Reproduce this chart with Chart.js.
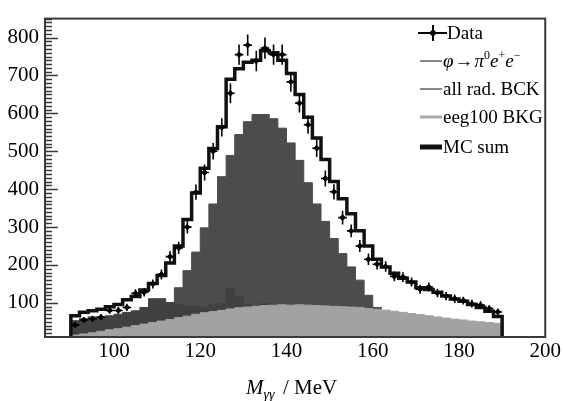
<!DOCTYPE html>
<html>
<head>
<meta charset="utf-8">
<script src="https://cdn.jsdelivr.net/npm/chart.js@4.4.0/dist/chart.umd.min.js"></script>
<style>
  html, body { margin: 0; padding: 0; background: #fff; }
</style>
</head>
<body>
<canvas id="myChart" width="563" height="401"></canvas>
<script>
// bins of 2 MeV from 90 to 190
var binEdges = [90,92,94,96,98,100,102,104,106,108,110,112,114,116,118,120,122,124,126,128,130,
                132,134,136,138,140,142,144,146,148,150,152,154,156,158,160,162,164,166,168,170,
                172,174,176,178,180,182,184,186,188,190];
var xTicks = [100, 120, 140, 160, 180, 200];
var yTicks = [100, 200, 300, 400, 500, 600, 700, 800];

var dataCounts = [42,55,58,62,80,80,88,125,128,150, 175,222,245,300,392,444,500,563,653,755,
                  780,738,772,755,755,683,627,570,508,428, 393,325,290,250,215,202,196,170,168,155,
                  136,142,126,118,111,106,98,94,85,76];
var dataErrors = [6.5,7.4,7.6,7.9,8.9,8.9,9.4,11,11,12, 13,15,16,17,20,21,22,24,26,27,
                  28,27,28,27,27,26,25,24,23,21, 20,18,17,16,15,14,14,13,13,12,
                  12,12,11,11,11,10,10,10,9,9];
var mcSum = [66,75,79,83,90,96,108,117,134,151, 172,205,250,320,390,455,507,565,690,718,
             735,740,765,760,740,705,650,590,535,478, 420,375,335,290,250,215,195,178,165,155,
             140,135,128,118,110,104,96,88,78,64];
var signalMC = [2,3,4,5,7,10,13,18,25,35, 50,75,140,185,234,298,361,433,489,544,
                578,597,597,586,561,522,476,417,361,315, 270,230,195,160,120,88,62,45,33,24,
                17,12,9,7,5,4,3,2,2,1];
var radBck = [53,58,63,63,66,70,75,79,88,111, 111,101,95,90,92,88,95,98,137,118,
              95,92,98,96,90,95,92,88,92,85, 84,80,76,72,68,64,60,56,52,48,
              45,42,39,36,34,32,30,28,26,24];
var eegBkg = [15,18,21,25,29,32,36,40,44,48, 52,56,61,65,70,74,77,80,84,87,
              89,91,93,94,95,94,95,94,93,92, 91,90,89,88,85,83,81,78,75,72,
              69,66,63,60,57,55,52,50,48,46];

var serif = '"Liberation Serif", "Times New Roman", serif';

// histogram outline: point at each left edge, plus the last right edge
function stepPoints(vals, closed) {
    var pts = [];
    if (closed) pts.push({x: binEdges[0], y: 0});
    for (var i = 0; i < vals.length; i++) pts.push({x: binEdges[i], y: vals[i]});
    pts.push({x: binEdges[vals.length], y: vals[vals.length - 1]});
    if (closed) pts.push({x: binEdges[vals.length], y: 0});
    return pts;
}

var dataPoints = dataCounts.map(function(v, i) {
    return {x: (binEdges[i] + binEdges[i + 1]) / 2, y: v, err: dataErrors[i], xlo: binEdges[i], xhi: binEdges[i + 1]};
});

var framePlugin = {
    id: 'frame',
    afterDatasetsDraw: function(chart) {
        var c = chart.ctx, a = chart.chartArea, ys = chart.scales.y, xs = chart.scales.x;
        // error bars on the data
        var meta = chart.getDatasetMeta(0);
        c.save();
        c.strokeStyle = '#000';
        c.lineWidth = 1.6;
        meta.data.forEach(function(el, i) {
            var p = chart.data.datasets[0].data[i];
            c.beginPath();
            c.moveTo(el.x, ys.getPixelForValue(p.y + p.err));
            c.lineTo(el.x, ys.getPixelForValue(p.y - p.err));
            c.moveTo(xs.getPixelForValue(p.xlo), el.y);
            c.lineTo(xs.getPixelForValue(p.xhi), el.y);
            c.stroke();
        });
        // box
        c.strokeStyle = '#3a3a3a';
        c.lineWidth = 2;
        c.strokeRect(a.left, a.top, a.right - a.left, a.bottom - a.top);
        // y ticks, pointing inward, minor every 10
        c.lineWidth = 1.5;
        c.beginPath();
        for (var v = 20; v <= 850; v += 10) {
            var py = Math.round(ys.getPixelForValue(v)) + 0.5;
            var len = (v % 100 === 0) ? 13 : 7;
            c.moveTo(a.left, py);
            c.lineTo(a.left + len, py);
        }
        c.stroke();
        c.restore();
    },
    afterDraw: function(chart) {
        var c = chart.ctx;
        c.save();
        c.fillStyle = '#000';
        c.textBaseline = 'alphabetic';
        // axis title
        c.font = 'italic 21px ' + serif;
        c.fillText('M', 246, 394);
        var w = c.measureText('M').width;
        c.font = 'italic 14px ' + serif;
        c.fillText('γγ', 246 + w, 399);
        c.font = '21px ' + serif;
        c.fillText('/ MeV', 283, 394);

        // legend
        var rows = [{ds: 0, y: 33}, {ds: 4, y: 61}, {ds: 3, y: 89}, {ds: 2, y: 117}, {ds: 1, y: 147}];
        rows.forEach(function(r) {
            var ds = chart.data.datasets[r.ds];
            if (r.ds === 0) {
                c.strokeStyle = '#000';
                c.lineWidth = 2;
                c.beginPath();
                c.moveTo(418, r.y); c.lineTo(447, r.y);
                c.moveTo(433, r.y - 8); c.lineTo(433, r.y + 8);
                c.stroke();
                c.beginPath();
                c.moveTo(433, r.y - 4); c.lineTo(437, r.y); c.lineTo(433, r.y + 4); c.lineTo(429, r.y);
                c.closePath(); c.fill();
            } else {
                c.strokeStyle = ds.legendColor;
                c.lineWidth = ds.legendWidth;
                c.beginPath();
                c.moveTo(420, r.y); c.lineTo(442, r.y);
                c.stroke();
            }
            var tx = (r.ds === 0) ? 447 : 443;
            var base = r.y + 6;
            if (ds.rich) {
                ds.rich.forEach(function(p) {
                    var size = p.sup ? 12 : 19;
                    c.font = (p.it ? 'italic ' : '') + size + 'px ' + serif;
                    var by = p.sup ? base - 8 : base;
                    c.fillText(p.t, tx, by);
                    tx += c.measureText(p.t).width + (p.gap || 0);
                });
            } else {
                c.font = '19px ' + serif;
                c.fillText(ds.label, tx, base);
            }
        });
        c.restore();
    }
};

const ctx = document.getElementById('myChart');
new Chart(ctx, {
    type: 'line',
    data: {
        datasets: [
            {
                type: 'scatter', label: 'Data', data: dataPoints,
                pointStyle: 'rectRot', pointRadius: 2.8,
                backgroundColor: '#000', borderColor: '#000', showLine: false
            },
            {
                label: 'MC sum', data: stepPoints(mcSum, true), stepped: 'before',
                borderColor: '#111', borderWidth: 3.5, fill: false, pointRadius: 0,
                legendColor: '#111', legendWidth: 5
            },
            {
                label: 'eeg100 BKG', data: stepPoints(eegBkg, false), stepped: 'before',
                borderColor: '#a2a2a2', borderWidth: 1, backgroundColor: '#a2a2a2', fill: 'origin', pointRadius: 0,
                legendColor: '#a8a8a8', legendWidth: 3
            },
            {
                label: 'all rad. BCK', data: stepPoints(radBck, false), stepped: 'before',
                borderColor: '#404040', borderWidth: 1, backgroundColor: '#404040', fill: 'origin', pointRadius: 0,
                legendColor: '#8a8a8a', legendWidth: 2
            },
            {
                label: 'φ→π0e+e−', data: stepPoints(signalMC, false), stepped: 'before',
                borderColor: '#4c4c4c', borderWidth: 1, backgroundColor: '#4c4c4c', fill: 'origin', pointRadius: 0,
                legendColor: '#8a8a8a', legendWidth: 2,
                rich: [{t: 'φ', it: true, gap: 1}, {t: '→', gap: 1}, {t: 'π', it: true}, {t: '0', sup: true},
                       {t: 'e', it: true}, {t: '+', sup: true}, {t: 'e', it: true}, {t: '−', sup: true}]
            }
        ]
    },
    options: {
        responsive: false,
        animation: false,
        devicePixelRatio: 1,
        layout: { padding: { top: 8, right: 16, left: 0, bottom: 0 } },
        plugins: { legend: { display: false }, tooltip: { enabled: false } },
        scales: {
            x: {
                type: 'linear', min: 84, max: 200,
                afterBuildTicks: function(s) { s.ticks = xTicks.map(function(v) { return {value: v}; }); },
                afterFit: function(s) { s.height = 64; },
                grid: { display: false, drawTicks: false },
                border: { display: false },
                ticks: { font: { family: serif, size: 21 }, color: '#000', padding: 2, maxRotation: 0, autoSkip: false }
            },
            y: {
                min: 10, max: 850,
                afterBuildTicks: function(s) { s.ticks = yTicks.map(function(v) { return {value: v}; }); },
                afterFit: function(s) { s.width = 45; },
                grid: { display: false, drawTicks: false },
                border: { display: false },
                ticks: { font: { family: serif, size: 21 }, color: '#000', padding: 6, autoSkip: false }
            }
        }
    },
    plugins: [framePlugin]
});
</script>
</body>
</html>
